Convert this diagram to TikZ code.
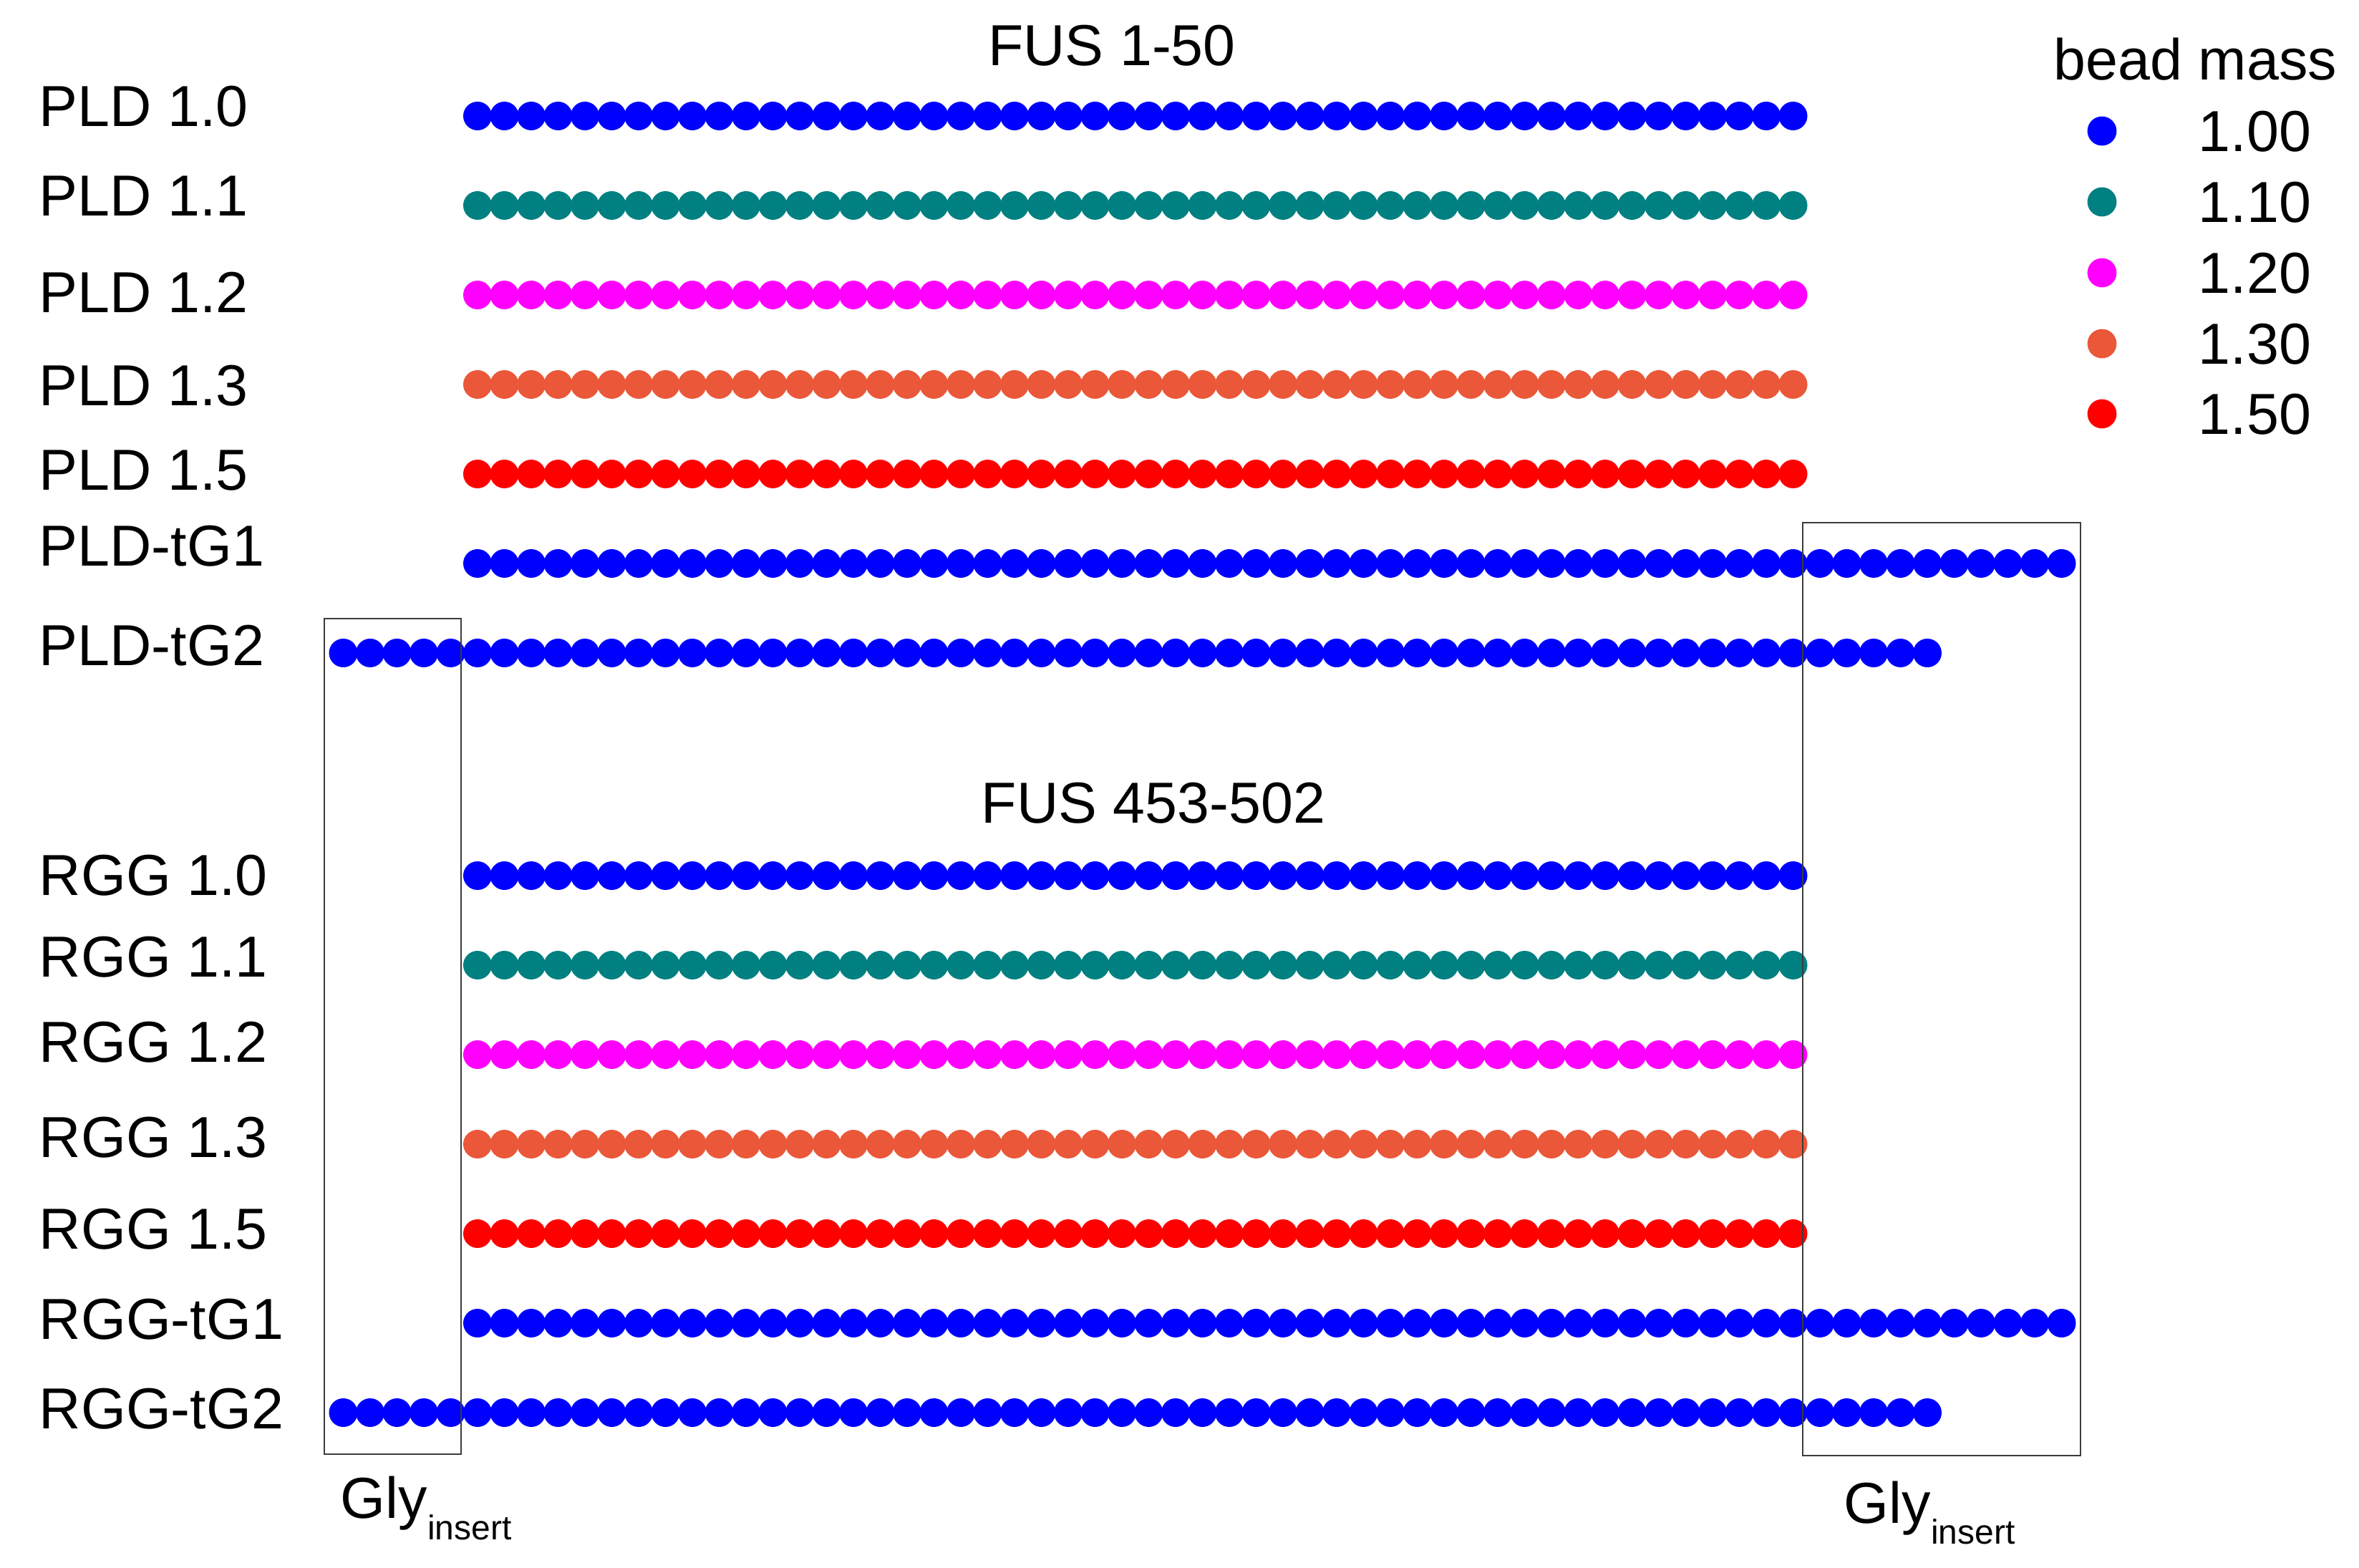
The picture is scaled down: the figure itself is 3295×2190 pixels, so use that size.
\documentclass[tikz,border=0pt]{standalone}
\usepackage{fontspec}
\setmainfont{Liberation Sans}
\definecolor{mA}{RGB}{0,0,255}
\definecolor{mB}{RGB}{0,128,128}
\definecolor{mC}{RGB}{255,0,255}
\definecolor{mD}{RGB}{235,87,57}
\definecolor{mE}{RGB}{255,0,0}
\definecolor{boxgray}{RGB}{60,60,60}
\begin{document}
\begin{tikzpicture}[x=0.25pt,y=-0.25pt,
  lbl/.style={anchor=base west,inner sep=0pt,font=\fontsize{20.2}{24}\selectfont},
  ttl/.style={anchor=base,inner sep=0pt,font=\fontsize{20.2}{24}\selectfont},
  glybox/.style={draw=boxgray,line width=0.6pt},
  bead/.style={radius=5pt}]
\useasboundingbox (0,0) rectangle (3295,2190);
% rows: y / colour / first index / last index / name / label / baseline
\foreach \yy/\cc/\lo/\hi/\nm/\tx/\bl in {
  162/mA/0/49/pldA/PLD 1.0/176.5,
  287/mB/0/49/pldB/PLD 1.1/302,
  412/mC/0/49/pldC/PLD 1.2/437,
  537/mD/0/49/pldD/PLD 1.3/567,
  662/mE/0/49/pldE/PLD 1.5/685,
  787/mA/0/59/pldF/PLD-tG1/791,
  912/mA/-5/54/pldG/PLD-tG2/930,
  1223/mA/0/49/rggA/RGG 1.0/1250,
  1348/mB/0/49/rggB/RGG 1.1/1365,
  1473/mC/0/49/rggC/RGG 1.2/1483,
  1598/mD/0/49/rggD/RGG 1.3/1616,
  1723/mE/0/49/rggE/RGG 1.5/1744,
  1848/mA/0/59/rggF/RGG-tG1/1870,
  1973/mA/-5/54/rggG/RGG-tG2/1995}{
  \node[lbl] (\nm) at (54,\bl) {\tx};
  \foreach \i in {\lo,...,\hi}
    \fill[\cc] ({667+37.5*\i},\yy) circle[bead];
}
% Gly insert boxes
\draw[glybox] (453,864) rectangle (644,2031);
\draw[glybox] (2518,730) rectangle (2906,2033);
\node[lbl] (glyL) at (475,2120) {Gly\raisebox{-7.5pt}{\fontsize{12}{14}\selectfont insert}};
\node[lbl] (glyR) at (2575,2127) {Gly\raisebox{-7.3pt}{\fontsize{12}{14}\selectfont insert}};
% titles
\node[ttl] (t1) at (1553,92) {FUS 1-50};
\node[ttl] (t2) at (1611,1150) {FUS 453-502};
% legend
\node[lbl] (lgt) at (2868,112) {bead mass};
\foreach \yy/\cc/\tx/\nm in {183/mA/1.00/lA,282/mB/1.10/lB,381/mC/1.20/lC,480/mD/1.30/lD,578/mE/1.50/lE}{
  \fill[\cc] (2936,\yy) circle[radius=5.1pt];
  \node[lbl] (\nm) at (3070,{\yy+29}) {\tx};
}
\end{tikzpicture}
\end{document}
